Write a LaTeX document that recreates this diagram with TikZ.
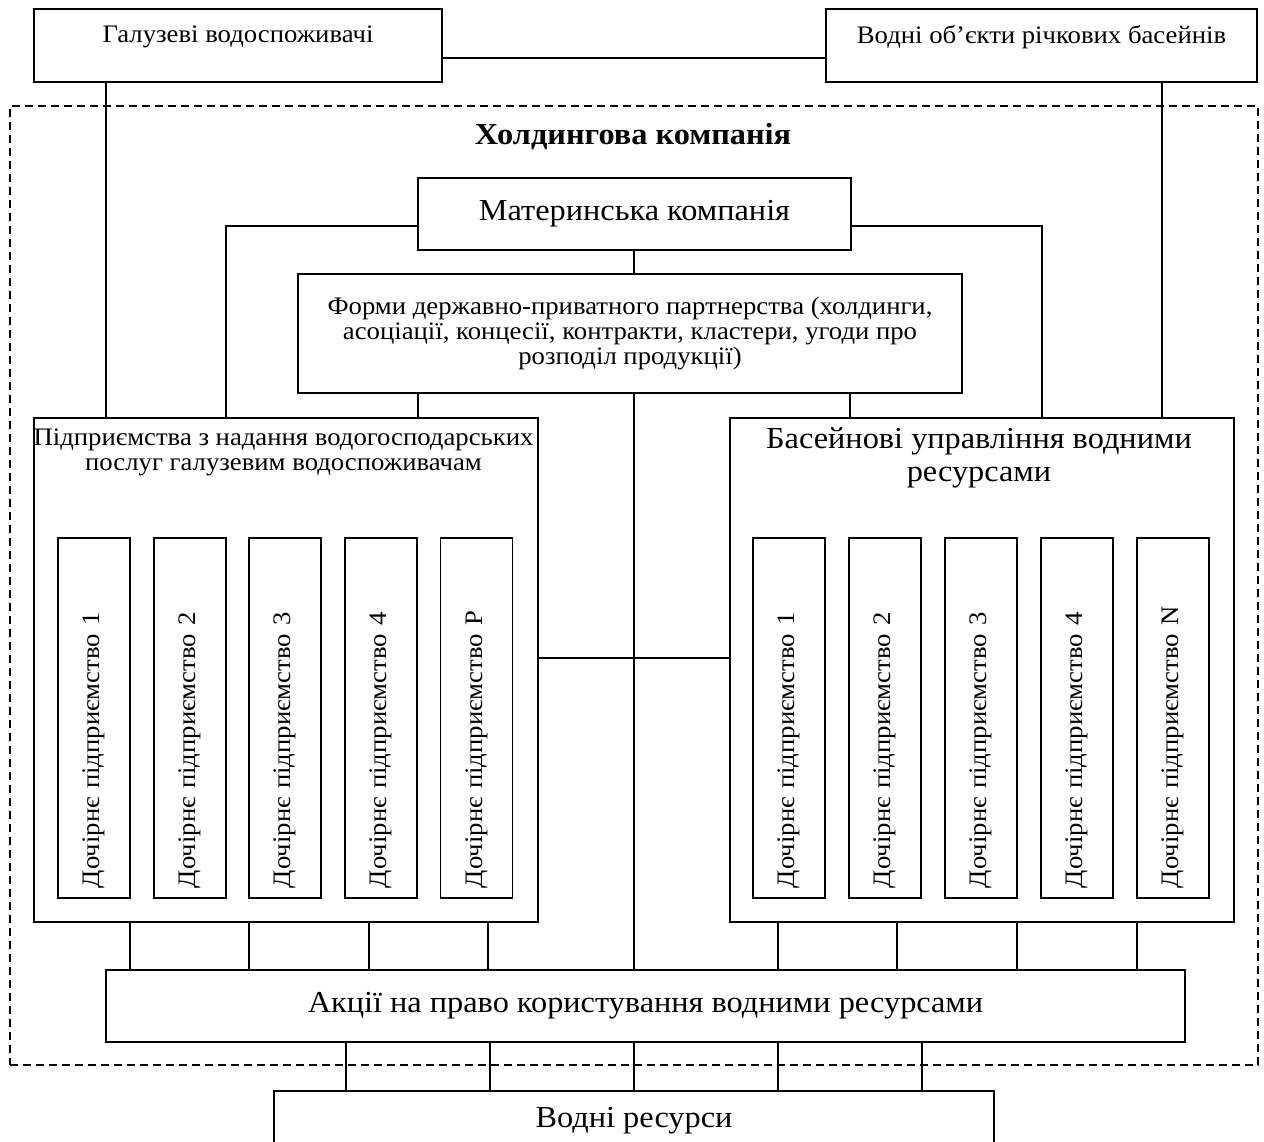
\documentclass[tikz,border=0pt]{standalone}
\usepackage{fontspec}
\setmainfont{Liberation Serif}[FakeStretch=1.06]
\newcommand{\smallsz}{\fontsize{25.2}{25}\selectfont}
\newcommand{\largesz}{\fontsize{30.5}{33}\selectfont}
\tikzset{
   box/.style={draw,shape=rectangle,line width=1.8pt,inner sep=0pt},
   txt/.style={inner sep=0pt,align=center},
   link/.style={line width=1.4pt},
   subbox/.style={box,rotate=90,minimum width=360,minimum height=72,
      inner xsep=10pt,text width=340,align=left,font=\smallsz}
}
\begin{document}
\begin{tikzpicture}[x=1pt,y=-1pt]
   \clip (0,0) rectangle (1264,1142);
   % outside the holding
   \path (238,45.5) node[box,minimum width=408,minimum height=73] (GV) {};
   \path (238,37) node[txt,font=\smallsz] (GVt) {Галузеві водоспоживачі};
   \path (1041.5,45.5) node[box,minimum width=431,minimum height=73] (WO) {};
   \path (1041.5,37) node[txt,font=\smallsz] (WOt) {Водні об’єкти річкових басейнів};
   \path (634,585.5) node[box,line width=1.4pt,dash pattern=on 8pt off 5pt,
      minimum width=1248,minimum height=959] (HC) {};
   \path (633,137) node[txt,font=\largesz\bfseries] (HCt) {Холдингова компанія};
   % holding
   \path (634.5,214) node[box,minimum width=433,minimum height=72,font=\largesz] (MK)
      {Материнська компанія};
   \path (630,333.5) node[box,minimum width=664,minimum height=119,font=\smallsz,align=center] (FP)
      {Форми державно-приватного партнерства (холдинги,\\
       асоціації, концесії, контракти, кластери, угоди про\\
       розподіл продукції)};
   \path (286,670) node[box,minimum width=504,minimum height=504] (PD) {};
   \path (283.5,452) node[txt,font=\smallsz] (PDt)
      {Підприємства з надання водогосподарських\\послуг галузевим водоспоживачам};
   \path (982,670) node[box,minimum width=504,minimum height=504] (BV) {};
   \path (979,458) node[txt,font=\largesz] (BVt) {Басейнові управління водними\\ресурсами};
   \foreach \i/\n in {1/1,2/2,3/3,4/4,5/P}
      \path ({94+95.6*(\i-1)},718) node[subbox] (PD\i) {Дочірнє підприємство \n};
   \foreach \i/\n in {1/1,2/2,3/3,4/4,5/N}
      \path ({789+95.9*(\i-1)},718) node[subbox] (BV\i) {Дочірнє підприємство \n};
   \path (645.5,1006) node[box,minimum width=1079,minimum height=72,font=\largesz] (AK)
      {Акції на право користування водними ресурсами};
   \path (634,1121) node[box,minimum width=720,minimum height=60,font=\largesz] (VR)
      {Водні ресурси};
   % links
   \draw[link] (GV.east |- 0,58) -- (WO.west |- 0,58);
   \draw[link] (GV.south -| 106,0) -- (PD.north -| 106,0);
   \draw[link] (WO.south -| 1162,0) -- (BV.north -| 1162,0);
   \draw[link] (MK.west |- 0,226) -| (PD.north -| 226,0);
   \draw[link] (MK.east |- 0,226) -| (BV.north -| 1042,0);
   \draw[link] (MK.south -| 634,0) -- (FP.north -| 634,0);
   \draw[link] (FP.south -| 418,0) -- (PD.north -| 418,0);
   \draw[link] (FP.south -| 850,0) -- (BV.north -| 850,0);
   \draw[link] (FP.south -| 634,0) -- (AK.north -| 634,0);
   \draw[link] (PD.east |- 0,658) -- (BV.west |- 0,658);
   \foreach \x in {130,249,369,488}
      \draw[link] (PD.south -| \x,0) -- (AK.north -| \x,0);
   \foreach \x in {778,897,1017,1137}
      \draw[link] (BV.south -| \x,0) -- (AK.north -| \x,0);
   \foreach \x in {346,490,634,778,922}
      \draw[link] (AK.south -| \x,0) -- (VR.north -| \x,0);
\end{tikzpicture}
\end{document}
